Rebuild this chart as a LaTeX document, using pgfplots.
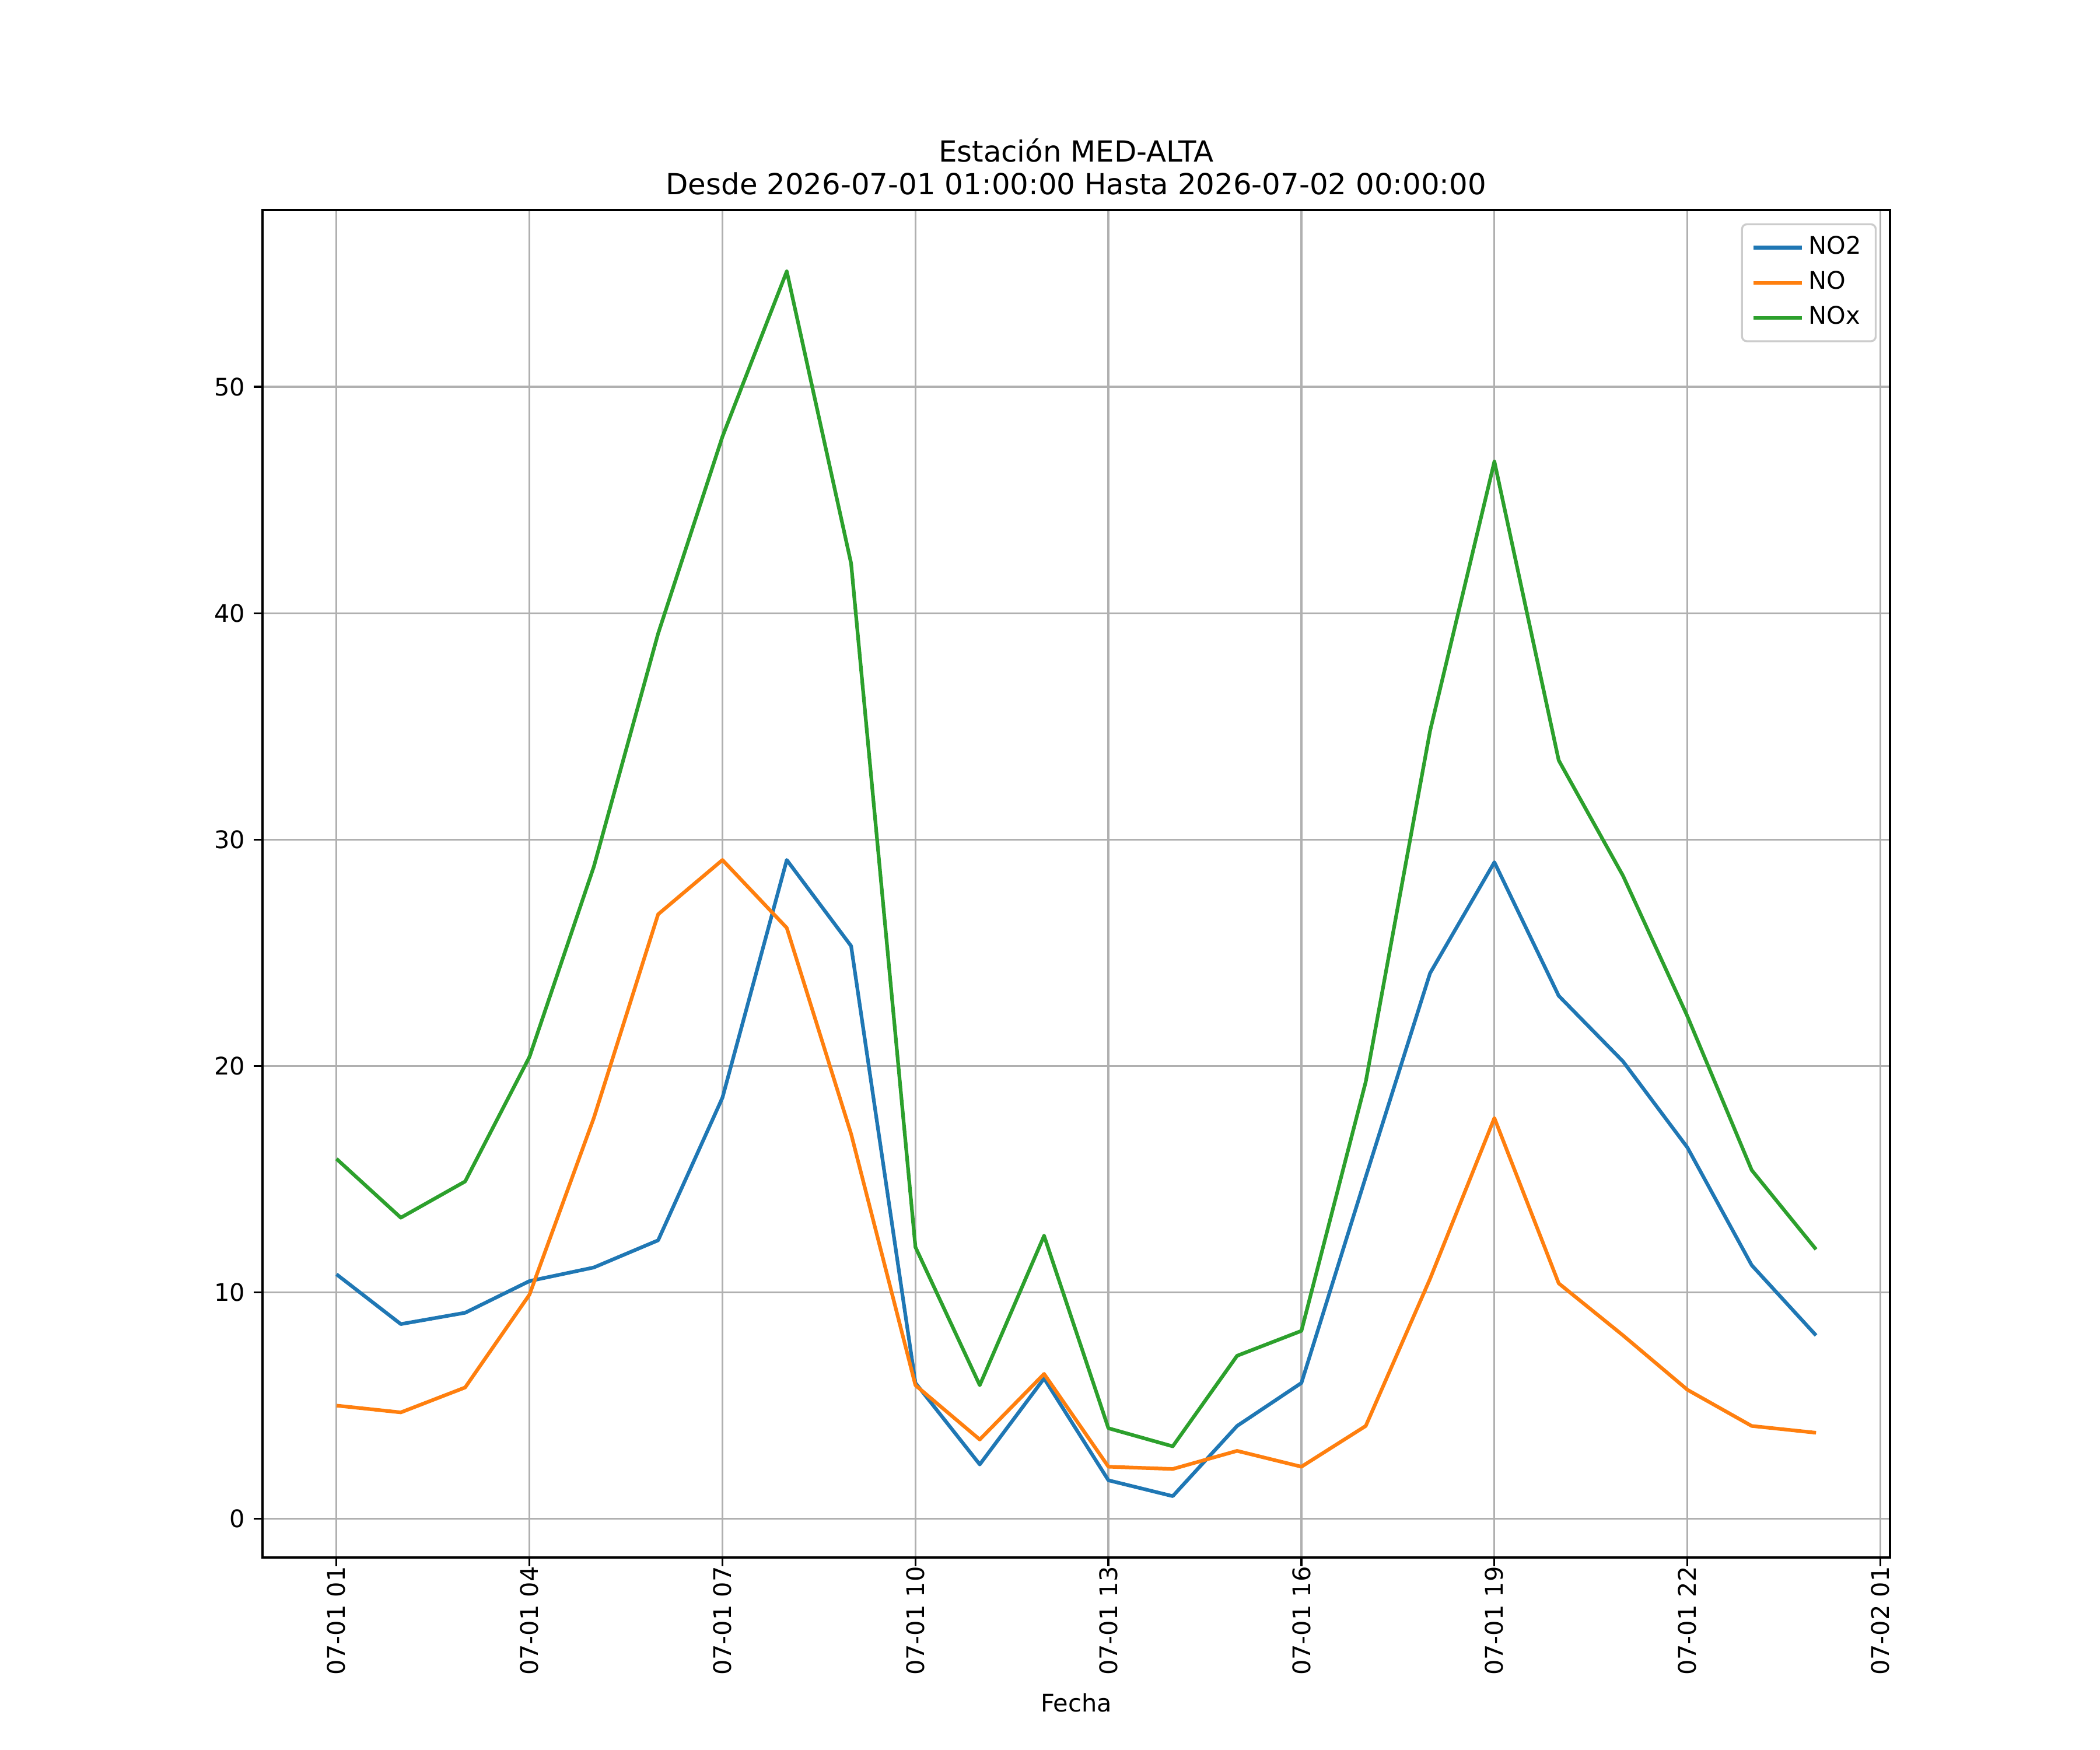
\documentclass[border=0pt]{standalone}
\usepackage{pgfplots}
\pgfplotsset{compat=1.18}
\usepackage{pgfplotstable}
\usepackage{fontspec}
\setmainfont{DejaVu Sans}
\definecolor{c1}{HTML}{1F77B4}
\definecolor{c2}{HTML}{FF7F0E}
\definecolor{c3}{HTML}{2CA02C}
\definecolor{gridc}{HTML}{B0B0B0}
\definecolor{legc}{HTML}{CCCCCC}
\pgfplotstableread{
h NOtwo NO NOx
1 10.8 5.0 15.9
2 8.6 4.7 13.3
3 9.1 5.8 14.9
4 10.5 9.9 20.4
5 11.1 17.7 28.8
6 12.3 26.7 39.1
7 18.6 29.1 47.8
8 29.1 26.1 55.1
9 25.3 17.0 42.2
10 6.0 5.9 12.0
11 2.4 3.5 5.9
12 6.2 6.4 12.5
13 1.7 2.3 4.0
14 1.0 2.2 3.2
15 4.1 3.0 7.2
16 6.0 2.3 8.3
17 15.1 4.1 19.3
18 24.1 10.6 34.8
19 29.0 17.7 46.7
20 23.1 10.4 33.5
21 20.2 8.1 28.4
22 16.4 5.7 22.2
23 11.2 4.1 15.4
24 8.1 3.8 11.9
}\datatab
\begin{document}
\fontsize{10}{12}\selectfont
\begin{tikzpicture}
\path[use as bounding box] (0,0) rectangle (12in,10in);
\begin{axis}[
  at={(1.5in,1.1in)}, anchor=south west,
  scale only axis, width=9.3in, height=7.7in,
  xmin=-0.15, xmax=25.15, ymin=-1.71, ymax=57.81,
  xtick={1,4,7,10,13,16,19,22,25},
  xticklabels={07-01 01,07-01 04,07-01 07,07-01 10,07-01 13,07-01 16,07-01 19,07-01 22,07-02 01},
  ytick={0,10,20,30,40,50},
  xtick pos=bottom, ytick pos=left,
  tick align=outside, major tick length=3.5pt,
  tick style={black, line width=0.8pt},
  axis line style={line width=0.8pt},
  grid=major, major grid style={gridc, line width=0.8pt},
  /pgf/number format/assume math mode=true,
  ticklabel style={font=\fontsize{10}{12}\selectfont},
  xticklabel style={rotate=90, anchor=east, inner sep=0pt, xshift=0pt},
  yticklabel style={inner sep=0pt, xshift=-3.5pt},
  xlabel={Fecha},
  xlabel style={at={(axis description cs:0.5,0)}, anchor=north, inner sep=0pt, yshift=-56pt, font=\fontsize{10}{12}\selectfont},
  title={Estación MED-ALTA\\Desde 2026-07-01 01:00:00 Hasta 2026-07-02 00:00:00},
  every axis title shift=0pt,
  title style={at={(axis description cs:0.5,1)}, anchor=south, inner sep=0pt, yshift=6pt, align=center, font=\fontsize{12}{13.4}\selectfont},
  legend style={at={(rel axis cs:1,1)}, anchor=north east, xshift=-5.5pt, yshift=-5.5pt,
    draw=legc, line width=0.8pt, rounded corners=2pt, inner xsep=4pt, inner ysep=3pt,
    font=\fontsize{10}{12}\selectfont, row sep=1.2pt,
    nodes={inner sep=2pt, text height=7.3pt, text depth=2pt},
    /tikz/every even column/.append style={column sep=0pt}},
  legend cell align=left,
  legend image code/.code={\draw[#1] (0pt,0pt) -- (20pt,0pt);},
  every axis plot/.append style={line width=1.5pt, line join=round},
]
\addplot[c1] table[x=h, y=NOtwo] {\datatab};
\addlegendentry{NO2}
\addplot[c2] table[x=h, y=NO] {\datatab};
\addlegendentry{NO}
\addplot[c3] table[x=h, y=NOx] {\datatab};
\addlegendentry{NOx}
\end{axis}
\end{tikzpicture}
\end{document}
